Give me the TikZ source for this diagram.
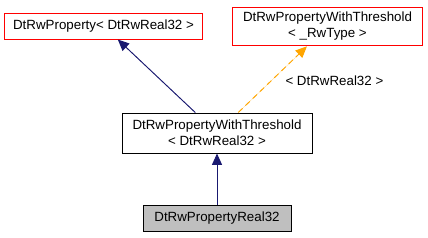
\documentclass[tikz,border=0pt]{standalone}
\usepackage{fontspec}
\setmainfont{Liberation Sans}
\usepackage{tikz}
\usetikzlibrary{positioning,arrows.meta,calc}
\definecolor{edgeblue}{HTML}{191970}
\definecolor{edgeorange}{HTML}{FFA500}
\tikzset{
  classbox/.style={draw, line width=0.75pt, align=center, font=\fontsize{10}{12}\selectfont,
    inner sep=2pt, fill=white},
  classref/.style={classbox, draw=red},
  classcur/.style={classbox, fill=black!25},
  inharrow/.style={-{Triangle[length=8.5pt,width=7.5pt]}, line width=0.7pt, draw=edgeblue, fill=edgeblue},
  tplarrow/.style={-{Triangle[length=8.5pt,width=7.5pt]}, line width=0.7pt, draw=edgeorange, fill=edgeorange, dash pattern=on 4.5pt off 3pt},
  edgelabel/.style={font=\fontsize{10}{12}\selectfont, align=center},
}

\begin{document}
\begin{tikzpicture}[x=0.75pt,y=-0.75pt]
  \useasboundingbox (0,0) rectangle (428,237);
  \node[classref, minimum width=149pt, minimum height=19.5pt] (prop) at (103.5,26) {DtRwProperty< DtRwReal32 >};
  \node[classref, minimum width=143pt, minimum height=29pt] (tmpl) at (327.5,26.5) {DtRwPropertyWithThreshold\\< \_RwType >};
  \node[classbox, minimum width=142.5pt, minimum height=30pt] (thr) at (217,133) {DtRwPropertyWithThreshold\\< DtRwReal32 >};
  \node[classcur, minimum width=111pt, minimum height=20pt] (real) at (217,218.5) {DtRwPropertyReal32};
  \draw[inharrow] (thr) -- (prop);
  \draw[tplarrow] (thr) -- node[edgelabel, right, xshift=6pt, yshift=-1pt] (tlabel) {< DtRwReal32 >} (tmpl);
  \draw[inharrow] (real) -- (thr);
\end{tikzpicture}
\end{document}
